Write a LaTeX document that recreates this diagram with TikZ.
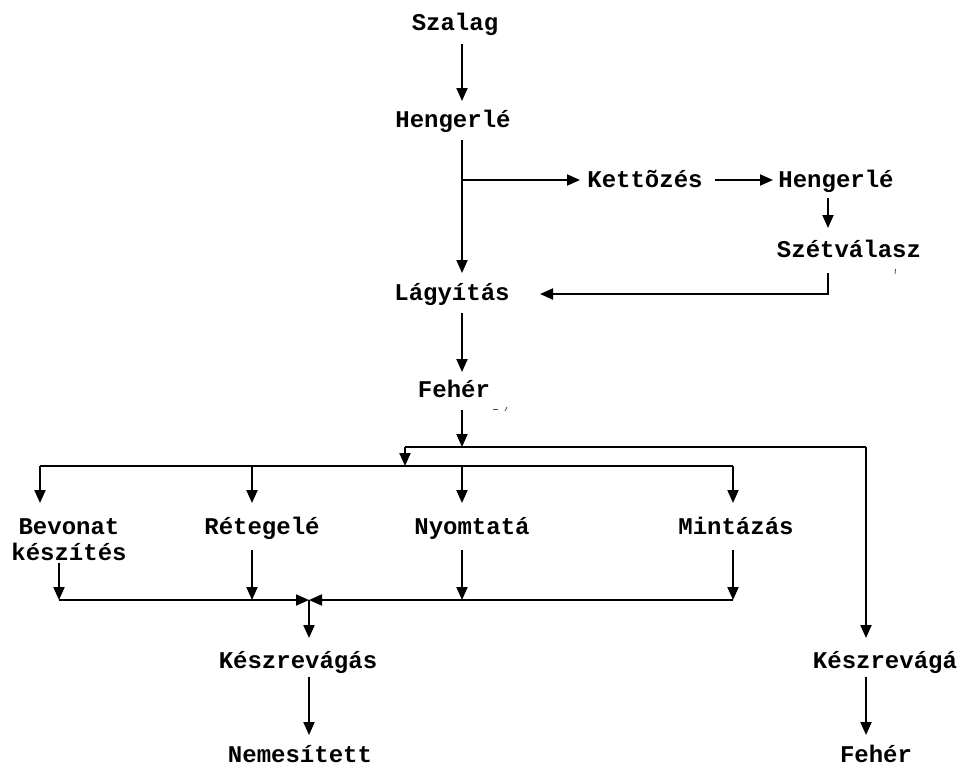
\documentclass[tikz,border=0pt]{standalone}
\usepackage{fontspec}
\setmainfont{Liberation Mono}
\usetikzlibrary{arrows.meta}
\begin{document}
\begin{tikzpicture}[x=1pt,y=-1pt,
  lbl/.style={anchor=base,inner sep=0pt,font=\bfseries\fontsize{24}{26}\selectfont},
  wire/.style={line width=2pt},
  arr/.style={wire,-{Triangle[length=13pt,width=11pt]}},
  speck/.style={line width=0.8pt,black!70}]
\useasboundingbox (0,0) rectangle (961,772);

% process steps
\node[lbl] (szalag) at (455,30)  {Szalag};
\node[lbl] (heng1)  at (453,127) {Hengerlé};
\node[lbl] (kett)   at (645,187) {Kettõzés};
\node[lbl] (heng2)  at (836,187) {Hengerlé};
\node[lbl] (szet)   at (849,257) {Szétválasz};
\node[lbl] (lagy)   at (452,300) {Lágyítás};
\node[lbl] (feher1) at (454,397) {Fehér};
\node[lbl] (bev1)   at (69,534)  {Bevonat};
\node[lbl] (bev2)   at (69,560)  {készítés};
\node[lbl] (reteg)  at (262,534) {Rétegelé};
\node[lbl] (nyom)   at (472,534) {Nyomtatá};
\node[lbl] (mint)   at (736,534) {Mintázás};
\node[lbl] (kesz1)  at (298,668) {Készrevágás};
\node[lbl] (nemes)  at (300,762) {Nemesített};
\node[lbl] (kesz2)  at (885,668) {Készrevágá};
\node[lbl] (feher2) at (876,762) {Fehér};

% junction points of the routing
\coordinate (split) at (462,180);
\coordinate (ret)   at (828,294);
\coordinate (busA)  at (462,447);
\coordinate (busAl) at (405,447);
\coordinate (busAr) at (866,447);
\coordinate (busBl) at (40,466);
\coordinate (busBr) at (733,466);
\coordinate (merge) at (309,600);

% main line
\draw[arr] (462,44) -- (462,101);
\draw[arr] (462,140) -- (462,273);
\draw[arr] (split) -- (580,180);
\draw[arr] (715,180) -- (773,180);
\draw[arr] (828,198) -- (828,228);
\draw[arr] (828,273) -- (ret) -- (540,294);
\draw[arr] (462,313) -- (462,372);
\draw[arr] (462,410) -- (busA);

% distribution buses
\draw[wire] (busAl) -- (busAr);
\draw[arr] (busAl) -- (405,466);
\draw[arr] (busAr) -- (866,638);
\draw[wire] (busBl) -- (busBr);
\foreach \xx in {40,252,462,733} \draw[arr] (\xx,466) -- (\xx,503);

% collecting bus
\draw[arr] (59,563) -- (59,600);
\foreach \xx in {252,462,733} \draw[arr] (\xx,550) -- (\xx,600);
\draw[arr] (59,600) -- (merge);
\draw[arr] (733,600) -- (merge);
\draw[arr] (merge) -- (309,638);
\draw[arr] (309,677) -- (309,735);
\draw[arr] (866,677) -- (866,735);

% small stray marks
\draw[speck] (895.5,269) -- (895,274);
\draw[speck] (493,409) -- (498,409);
\draw[speck] (505,411) -- (507,407);
\end{tikzpicture}
\end{document}
